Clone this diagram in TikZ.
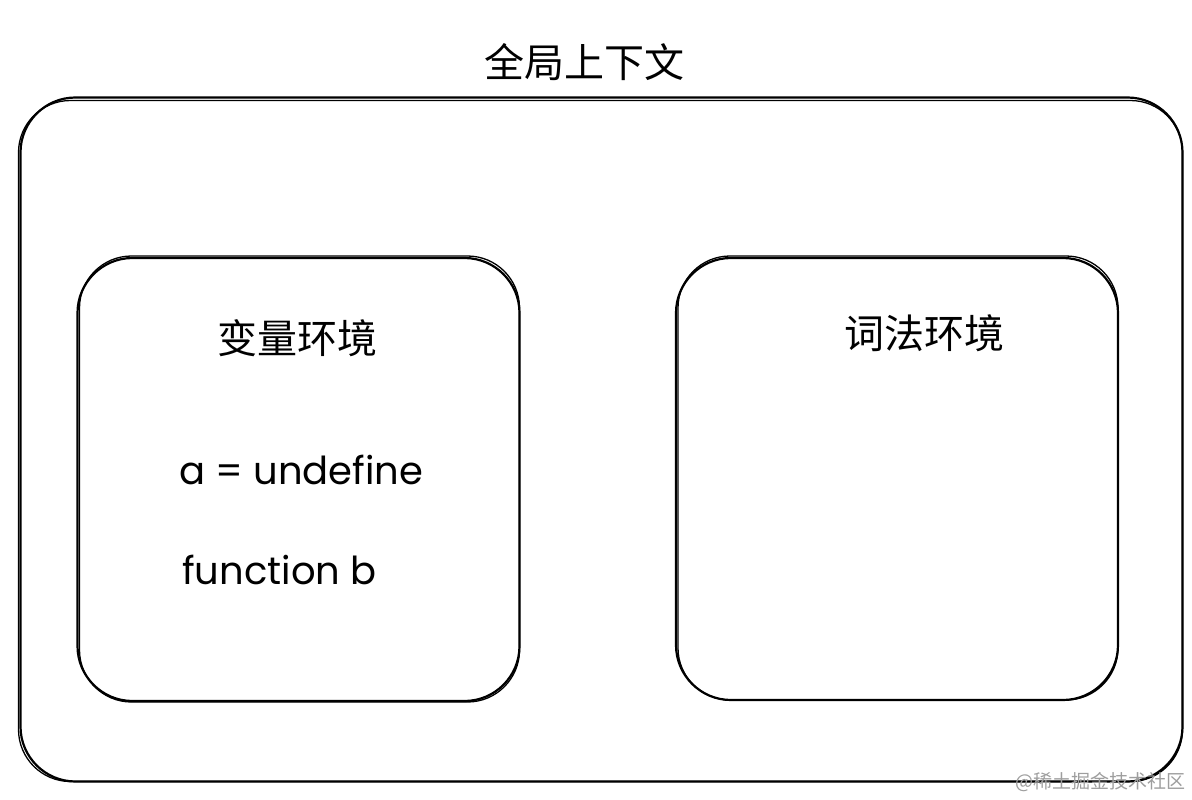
\documentclass[tikz,border=0pt]{standalone}
\usepackage{fontspec}
\setmainfont{Poppins}
\newfontfamily\cjk{Noto Sans CJK SC}
\newfontfamily\hand{Poppins}
\begin{document}
\begin{tikzpicture}[x=1pt,y=-1pt,
  sketch/.style={draw=black,line width=2.2pt,rounded corners=55pt,inner sep=0pt},
  sketchb/.style={draw=black,line width=1.3pt,rounded corners=52pt,inner sep=0pt},
  title/.style={font=\cjk\fontsize{40}{46}\selectfont,inner sep=0pt},
  code/.style={font=\hand\fontsize{38.5}{44}\selectfont,inner sep=0pt,anchor=west},
  wmark/.style={font=\cjk\fontsize{19}{22}\selectfont,text=black!38,inner sep=0pt,anchor=east}]
\useasboundingbox (0,0) rectangle (1192,800);
% outer box
\node[sketch,minimum width=1162pt,minimum height=684pt] (outer) at (601.5,439.5) {};
\node[sketchb,minimum width=1164pt,minimum height=681pt] (outer2) at (600.5,441) {};
\node[title] (ttl) at (584,62) {全局上下文};
% left box
\node[sketch,minimum width=442pt,minimum height=443pt] (lbox) at (298.5,479.5) {};
\node[sketchb,minimum width=440pt,minimum height=446pt] (lbox2) at (299.5,479) {};
\node[title] (lt) at (297,338) {变量环境};
\node[code] (c1) at (179,470) {a = undefine};
\node[code] (c2) at (182,570) {function b};
% right box
\node[sketch,minimum width=442pt,minimum height=442pt] (rbox) at (897,479) {};
\node[sketchb,minimum width=440pt,minimum height=444pt] (rbox2) at (898,478) {};
\node[title] (rt) at (924,333) {词法环境};
% watermark
\node[wmark] (wm) at (1186,782) {@稀土掘金技术社区};
\end{tikzpicture}
\end{document}
